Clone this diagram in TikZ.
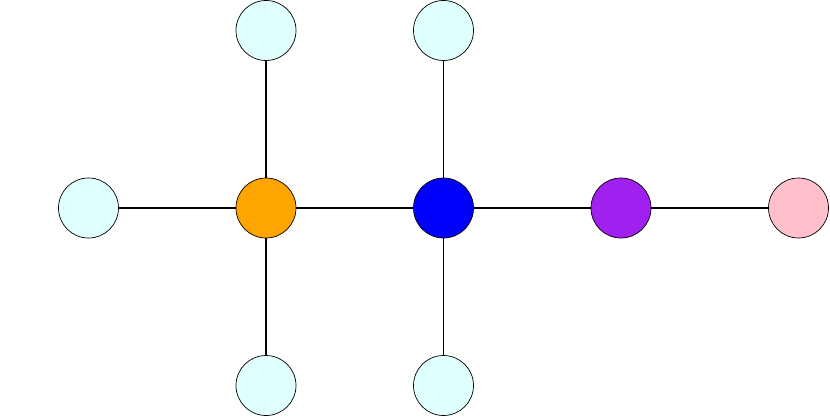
\documentclass[tikz,border=0pt]{standalone}
\usepackage{tikz}
\usetikzlibrary{positioning}
\definecolor{leafcyan}{RGB}{224,255,255}
\definecolor{huborange}{RGB}{255,165,0}
\definecolor{hubpurple}{RGB}{160,32,240}
\definecolor{endpink}{RGB}{255,192,203}
\tikzstyle{vertex} = [circle, draw, minimum size=1.2cm, inner sep=0pt]
\tikzstyle{leaf} = [vertex, fill=leafcyan]
\tikzstyle{edge} = [draw, line width=0.6pt]

\begin{document}
\begin{tikzpicture}[node distance=3.55cm]
    \useasboundingbox (-5.32,-4.18) rectangle (11.28,4.16);
    % hubs
    \node[vertex, fill=huborange] (orangehub) at (0,0) {};
    \node[vertex, fill=blue, right of=orangehub] (bluehub) {};
    \node[vertex, fill=hubpurple, right of=bluehub] (purplehub) {};
    \node[vertex, fill=endpink, right of=purplehub] (pinkend) {};
    
    % leaves
    \node[leaf, left of=orangehub] (leafleft) {};
    \node[leaf, above of=orangehub] (leafup1) {};
    \node[leaf, below of=orangehub] (leafdown1) {};
    \node[leaf, above of=bluehub] (leafup2) {};
    \node[leaf, below of=bluehub] (leafdown2) {};
    
    % edges
    \draw[edge] (leafleft) -- (orangehub);
    \draw[edge] (orangehub) -- (bluehub);
    \draw[edge] (bluehub) -- (purplehub);
    \draw[edge] (purplehub) -- (pinkend);
    \draw[edge] (orangehub) -- (leafup1);
    \draw[edge] (orangehub) -- (leafdown1);
    \draw[edge] (bluehub) -- (leafup2);
    \draw[edge] (bluehub) -- (leafdown2);
\end{tikzpicture}
\end{document}
